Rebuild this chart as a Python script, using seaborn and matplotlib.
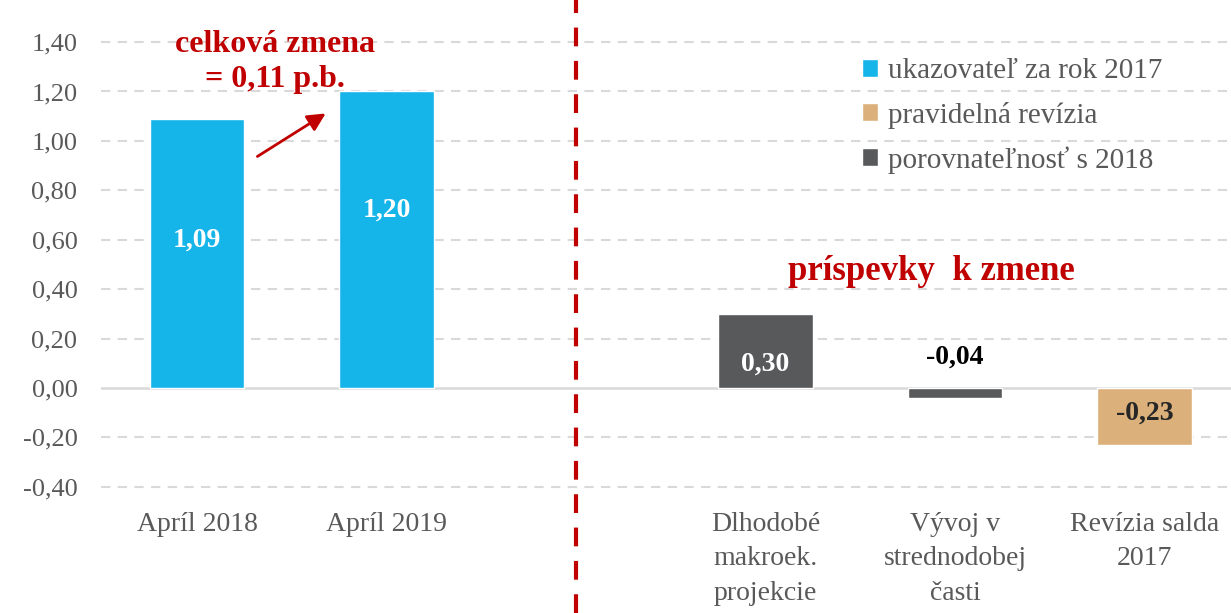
import matplotlib
matplotlib.use("Agg")
import matplotlib.pyplot as plt
import matplotlib.transforms as mtransforms
from matplotlib.lines import Line2D
import seaborn as sns
import pandas as pd
import numpy as np

# ---- data ----
categories = ["Apríl 2018", "Apríl 2019", " ",
              "Dlhodobé\nmakroek.\nprojekcie", "Vývoj v\nstrednodobej\nčasti",
              "Revízia salda\n2017"]
bar_categories = ["Apríl 2018", "Apríl 2019",
                  "Dlhodobé\nmakroek.\nprojekcie", "Vývoj v\nstrednodobej\nčasti",
                  "Revízia salda\n2017"]
values = [1.09, 1.20, 0.30, -0.04, -0.23]
series_of_bar = ["ukazovateľ za rok 2017", "ukazovateľ za rok 2017",
                 "porovnateľnosť s 2018", "porovnateľnosť s 2018",
                 "pravidelná revízia"]
series = ["ukazovateľ za rok 2017", "pravidelná revízia", "porovnateľnosť s 2018"]
series_colors = ["#15B5EA", "#DBB07A", "#58595B"]
value_labels = ["1,09", "1,20", "0,30", "-0,04", "-0,23"]
yticks = [-0.40, -0.20, 0.00, 0.20, 0.40, 0.60, 0.80, 1.00, 1.20, 1.40]

df = pd.DataFrame({"kategoria": bar_categories, "hodnota": values, "typ": series_of_bar})

sns.set_theme(style="white")
plt.rcParams["font.family"] = ["Liberation Serif", "DejaVu Serif"]

GRAY = "#595959"
RED = "#C00000"

fig = plt.figure(figsize=(12.31, 6.13), dpi=100)
ax = fig.add_axes([101 / 1231, 0.1857, 1130 / 1231, 0.786])

sns.barplot(data=df, x="kategoria", y="hodnota", hue="typ", order=categories,
            hue_order=series, palette=dict(zip(series, series_colors)),
            dodge=False, width=0.5, saturation=1, ax=ax, legend=True)

ax.set_xlim(-0.507, 5.456)
ax.set_ylim(-0.45, 1.5)
ax.set_yticks(yticks)
ax.set_yticklabels([f"{t:.2f}".replace(".", ",") for t in yticks],
                   fontsize=19, color=GRAY)
ax.set_xticks(range(len(categories)))
ax.set_xticklabels(categories, fontsize=20, color=GRAY, linespacing=1.5)
ax.tick_params(axis="both", length=0)
ax.tick_params(axis="y", pad=17)
ax.tick_params(axis="x", pad=9)
ax.set_xlabel("")
ax.set_ylabel("")
for s in ax.spines.values():
    s.set_visible(False)

# gridlines
for t in yticks:
    if t == 0:
        ax.axhline(0, color="#D9D9D9", lw=1.8, zorder=0.5)
    else:
        ax.axhline(t, color="#D9D9D9", lw=1.5, ls=(0, (4.5, 3.5)), zorder=0.5)

# bar value labels
label_y = [0.60, 0.72, 0.095, 0.125, -0.10]
label_colors = ["white", "white", "white", "black", "#262626"]
bar_pos = [categories.index(c) for c in bar_categories]
for xp, yp, txt, col in zip(bar_pos, label_y, value_labels, label_colors):
    ax.text(xp, yp, txt, ha="center", va="center", fontsize=20,
            fontweight="bold", color=col)

# annotations
ax.text(0.41, 1.32, "celková zmena\n= 0,11 p.b.", ha="center", va="center",
        fontsize=23, fontweight="bold", color=RED, linespacing=1.25)
ax.text(3.873, 0.473, "príspevky  k zmene", ha="center", va="center",
        fontsize=25, fontweight="bold", color=RED)
ax.annotate("", xy=(0.691, 1.117), xytext=(0.306, 0.931),
            arrowprops=dict(arrowstyle="-|>,head_length=0.9,head_width=0.45",
                            color=RED, lw=2))

# red dashed divider
trans = mtransforms.blended_transform_factory(ax.transData, fig.transFigure)
fig.add_artist(Line2D([2, 2], [0, 1], transform=trans, color=RED, lw=3,
                      ls=(0, (4.5, 3.5))))

# legend
leg = ax.legend(loc="upper left", bbox_to_anchor=(735 / 1130, 0.97),
                frameon=False, fontsize=21, handlelength=0.55, handleheight=0.55,
                handletextpad=0.35, labelspacing=0.6)
for t in leg.get_texts():
    t.set_color(GRAY)

fig.savefig("out.png", dpi=100)
